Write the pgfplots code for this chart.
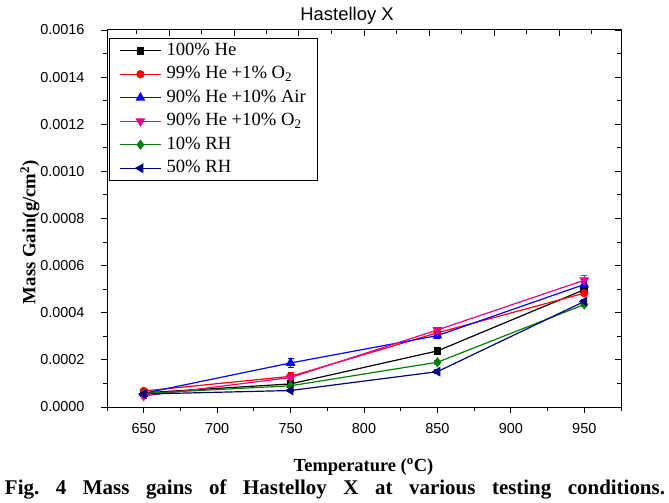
\documentclass[border=0pt]{standalone}
\usepackage{fontspec}
\setmainfont{Liberation Serif}
\newfontfamily\arial{Liberation Sans}
\usepackage{pgfplots}
\usepackage{pgfplotstable}
\pgfplotsset{compat=1.18}

\pgfplotstableread{
x y e
650 0.000060 0.000005
750 0.000098 0.000008
850 0.000238 0.000008
950 0.000498 0.000010
}\tblack
\pgfplotstableread{
x y e
650 0.000068 0.000006
750 0.000130 0.000015
850 0.000315 0.000010
950 0.000483 0.000010
}\tred
\pgfplotstableread{
x y e
650 0.000058 0.000005
750 0.000187 0.000020
850 0.000303 0.000010
950 0.000520 0.000010
}\tblue
\pgfplotstableread{
x y e
650 0.000047 0.000010
750 0.000125 0.000010
850 0.000327 0.000010
950 0.000538 0.000020
}\tmag
\pgfplotstableread{
x y e
650 0.000058 0.000005
750 0.000090 0.000006
850 0.000190 0.000008
950 0.000435 0.000008
}\tgreen
\pgfplotstableread{
x y e
650 0.000055 0.000005
750 0.000070 0.000006
850 0.000150 0.000008
950 0.000448 0.000008
}\tnavy

\definecolor{cgreen}{RGB}{0,128,0}
\definecolor{cnavy}{RGB}{0,0,128}

\begin{document}
\begin{tikzpicture}
\begin{axis}[
  name=main,
  scale only axis,
  width=514bp, height=377bp,
  xmin=625, xmax=975,
  ymin=0, ymax=0.0016,
  xtick={650,700,...,950},
  minor xtick={625,675,...,975},
  ytick={0,0.0002,...,0.0016},
  minor ytick={0.0001,0.0003,...,0.0015},
  scaled y ticks=false,
  xtick pos=left, ytick pos=left,
  tick align=outside,
  major tick length=6bp, minor tick length=4bp,
  tick style={black, line width=0.9pt},
  axis line style={line width=1pt},
  yticklabel style={/pgf/number format/.cd, fixed, fixed zerofill, precision=4, /tikz/.cd, xshift=-13bp},
  xticklabel style={yshift=-7bp},
  /pgf/number format/assume math mode=true,
  ticklabel style={font=\arial\fontsize{14.5}{16}\selectfont},
  title={Hastelloy X},
  title style={font=\arial\fontsize{18.5}{20}\selectfont, at={(rel axis cs:0.467,1)}, anchor=base, yshift=4bp},
  xlabel={Temperature (\textsuperscript{o}C)},
  xlabel style={font=\bfseries\fontsize{18.5}{20}\selectfont, at={(rel axis cs:0.499,-0.170)}, anchor=base},
  ylabel={Mass Gain(g/cm\textsuperscript{2})},
  ylabel style={font=\bfseries\fontsize{18.8}{20}\selectfont, at={(rel axis cs:-0.150,0.464)}, anchor=center, rotate=0},
  legend style={at={(rel axis cs:0.004,0.979)}, anchor=north west, draw=black, line width=0.6pt,
    font=\fontsize{18.7}{23}\selectfont, row sep=4.5bp, column sep=4bp, inner xsep=10bp, inner ysep=3bp,
    nodes={inner sep=1bp, text height=13bp, text depth=4bp}},
  legend cell align=left,
  legend image code/.code={
    \draw[mark repeat=2,mark phase=2] plot coordinates {(0bp,0bp) (20.5bp,0bp) (41bp,0bp)};
  },
  every axis plot/.append style={line width=1.2pt, mark size=3.5bp,
     error bars/y dir=both, error bars/y explicit,
     error bars/error bar style={line width=0.9pt},
     error bars/error mark options={rotate=90, mark size=3bp, line width=0.9pt}},
]
\addplot[black, mark=square*, mark size=3.2bp] table[x=x, y=y, y error=e] {\tblack};
\addlegendentry{100\% He}
\addplot[red, mark=*] table[x=x, y=y, y error=e] {\tred};
\addlegendentry{99\% He +1\% O\textsubscript{2}}
\addplot[blue, mark=triangle*, mark size=4.5bp] table[x=x, y=y, y error=e] {\tblue};
\addlegendentry{90\% He +10\% Air}
\addplot[magenta, mark=triangle*, mark size=4.5bp, mark options={rotate=180}] table[x=x, y=y, y error=e] {\tmag};
\addlegendentry{90\% He +10\% O\textsubscript{2}}
\addplot[cgreen, mark=diamond*, mark size=4.2bp] table[x=x, y=y, y error=e] {\tgreen};
\addlegendentry{10\% RH}
\addplot[cnavy, mark=triangle*, mark size=4.5bp, mark options={rotate=90}] table[x=x, y=y, y error=e] {\tnavy};
\addlegendentry{50\% RH}
\end{axis}
\begin{axis}[
  scale only axis,
  width=514bp, height=377bp,
  at={(main.south west)}, anchor=south west,
  xmin=625, xmax=975,
  ymin=0, ymax=0.0016,
  xtick={667.2,711.5,755.7,800,844.3,888.5,932.8},
  minor xtick={645.1,689.4,733.6,777.9,822.1,866.4,910.6,954.9},
  ytick={0,0.0002,...,0.0016},
  minor ytick={0.0001,0.0003,...,0.0015},
  xtick pos=right, ytick pos=right,
  tick align=inside,
  major tick length=6bp, minor tick length=4bp,
  tick style={black, line width=0.9pt},
  axis line style={line width=1pt},
  xticklabels={}, yticklabels={},
  scaled y ticks=false,
]
\end{axis}
\path (main.south west) ++(228bp,-87bp) node[anchor=base, font=\bfseries\fontsize{21}{24}\selectfont, inner sep=0pt]
  {\frenchspacing\makebox[660bp][s]{Fig. 4 Mass gains of Hastelloy X at various testing conditions.}};
\path (main.south west) ++(-107bp,-96bp) coordinate (bbA);
\path (main.north east) ++(48bp,30bp) coordinate (bbB);
\useasboundingbox (bbA) rectangle (bbB);
\end{tikzpicture}
\end{document}
